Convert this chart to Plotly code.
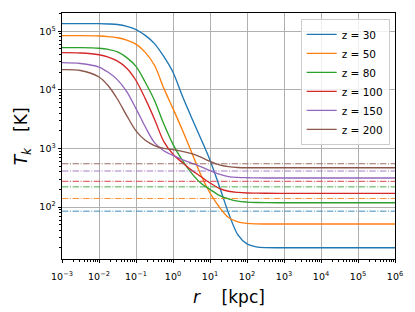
import plotly.graph_objects as go

# ---------------- data ----------------
log10_r_kpc = [-3, -2.5, -2, -1.75, -1.5, -1.25, -1, -0.75, -0.5, -0.25, 0,
               0.25, 0.5, 0.75, 1, 1.25, 1.5, 1.75, 2, 2.25, 2.5, 3, 4, 5, 6]

redshifts = [30, 50, 80, 100, 150, 200]

log10_Tk_z30 = [5.13, 5.13, 5.13, 5.125, 5.115, 5.085, 5.03, 4.93, 4.79, 4.57, 4.30,
                3.90, 3.53, 3.17, 2.80, 2.36, 1.90, 1.53, 1.37, 1.32, 1.307, 1.305, 1.305, 1.305, 1.305]
log10_Tk_z50 = [4.925, 4.925, 4.92, 4.91, 4.89, 4.85, 4.78, 4.64, 4.42, 4.03, 3.68,
                3.32, 2.94, 2.55, 2.24, 2.00, 1.82, 1.745, 1.72, 1.712, 1.71, 1.71, 1.71, 1.71, 1.71]
log10_Tk_z80 = [4.72, 4.72, 4.71, 4.69, 4.65, 4.55, 4.40, 4.13, 3.82, 3.42, 3.07,
                2.80, 2.58, 2.41, 2.30, 2.20, 2.14, 2.10, 2.085, 2.078, 2.075, 2.073, 2.073, 2.073, 2.073]
log10_Tk_z100 = [4.635, 4.63, 4.60, 4.56, 4.49, 4.37, 4.16, 3.85, 3.50, 3.12, 2.90,
                 2.76, 2.63, 2.52, 2.41, 2.32, 2.27, 2.25, 2.24, 2.237, 2.235, 2.234, 2.234, 2.234, 2.234]
log10_Tk_z150 = [4.465, 4.45, 4.39, 4.30, 4.17, 3.97, 3.68, 3.37, 3.10, 2.96, 2.88,
                 2.81, 2.75, 2.69, 2.62, 2.56, 2.52, 2.505, 2.50, 2.497, 2.495, 2.495, 2.495, 2.495, 2.495]
log10_Tk_z200 = [4.345, 4.33, 4.22, 4.07, 3.84, 3.56, 3.30, 3.14, 3.05, 3.00, 2.98,
                 2.95, 2.91, 2.85, 2.78, 2.72, 2.69, 2.675, 2.67, 2.67, 2.67, 2.67, 2.67, 2.67, 2.67]

# horizontal dash-dot reference levels (K), one per redshift
T_ref_levels = [85, 140, 221, 275, 412, 548]

x_tick_vals = [1e-3, 1e-2, 1e-1, 1e0, 1e1, 1e2, 1e3, 1e4, 1e5, 1e6]
x_tick_labels = ["10<sup>−3</sup>", "10<sup>−2</sup>", "10<sup>−1</sup>", "10<sup>0</sup>",
                 "10<sup>1</sup>", "10<sup>2</sup>", "10<sup>3</sup>", "10<sup>4</sup>",
                 "10<sup>5</sup>", "10<sup>6</sup>"]
y_tick_vals = [1e2, 1e3, 1e4, 1e5]
y_tick_labels = ["10<sup>2</sup>", "10<sup>3</sup>", "10<sup>4</sup>", "10<sup>5</sup>"]

# ---------------- styling ----------------
colors = ["#1f77b4", "#ff7f0e", "#2ca02c", "#d62728", "#9467bd", "#8c564b"]
FONT = "DejaVu Sans"

series = [log10_Tk_z30, log10_Tk_z50, log10_Tk_z80, log10_Tk_z100, log10_Tk_z150, log10_Tk_z200]
r_kpc = [10 ** v for v in log10_r_kpc]

fig = go.Figure()
for z, logT, col, lvl in zip(redshifts, series, colors, T_ref_levels):
    fig.add_trace(go.Scatter(
        x=r_kpc, y=[10 ** v for v in logT], mode="lines",
        name=f"z = {z}",
        line=dict(color=col, width=1.35, shape="spline", smoothing=0.9),
    ))
    fig.add_trace(go.Scatter(
        x=[x_tick_vals[0], x_tick_vals[-1]], y=[lvl, lvl], mode="lines",
        showlegend=False, opacity=0.85,
        line=dict(color=col, width=1, dash="6.4px,1.6px,1px,1.6px"),
        hoverinfo="skip",
    ))

minor_x = [m * 10 ** e for e in range(-3, 6) for m in range(2, 10)]
minor_y = [m * 10 ** e for e in range(1, 6) for m in range(2, 10)]

axis_common = dict(
    type="log", showline=True, mirror=True, linecolor="black", linewidth=0.8,
    ticks="outside", ticklen=3.5, tickwidth=0.8, tickcolor="black",
    showgrid=True, gridcolor="#b0b0b0", gridwidth=0.8, zeroline=False,
    tickfont=dict(family=FONT, size=9.5, color="black"),
    tickmode="array",
)

fig.update_xaxes(
    **axis_common, range=[-3, 6], tickvals=x_tick_vals, ticktext=x_tick_labels,
    ticklabelstandoff=5,
    minor=dict(tickmode="array", tickvals=minor_x, ticks="outside", ticklen=2,
               tickwidth=0.6, tickcolor="black", showgrid=False),
)
fig.update_yaxes(
    **axis_common, range=[1.113, 5.312], tickvals=y_tick_vals, ticktext=y_tick_labels,
    ticklabelstandoff=0,
    minor=dict(tickmode="array", tickvals=minor_y, ticks="outside", ticklen=2,
               tickwidth=0.6, tickcolor="black", showgrid=False),
)

fig.update_layout(
    width=415, height=312,
    margin=dict(l=62, r=17, t=13, b=53),
    paper_bgcolor="white", plot_bgcolor="white",
    font=dict(family=FONT, color="black"),
    showlegend=True,
    legend=dict(
        x=0.984, y=0.976, xanchor="right", yanchor="top",
        bgcolor="rgba(255,255,255,0.8)", bordercolor="#cccccc", borderwidth=1,
        font=dict(family=FONT, size=10.5, color="black"),
        itemwidth=30,
    ),
    annotations=[
        dict(text="<i>r</i>    [kpc]", xref="paper", yref="paper", x=0.5, y=-0.154,
             xanchor="center", yanchor="middle", showarrow=False,
             font=dict(family=FONT, size=17, color="black")),
        dict(text="<i>T</i><sub><i>k</i></sub>   [K]", xref="paper", yref="paper",
             x=-0.119, y=0.5, xanchor="center", yanchor="middle", showarrow=False,
             textangle=-90, font=dict(family=FONT, size=17, color="black")),
    ],
)

fig.write_html("out.html", config={"displayModeBar": False},
               post_script="document.body.style.margin='0';")
